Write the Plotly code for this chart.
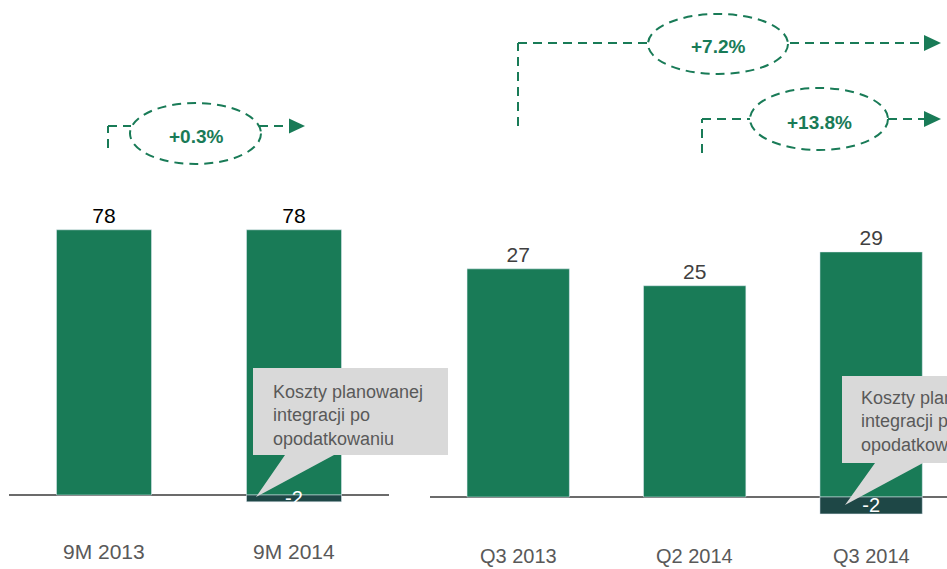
import plotly.graph_objects as go

# dane - lewy panel (9M)
kat_9m = ["9M 2013", "9M 2014"]
wart_9m = [78, 78]
neg_9m = [None, -2]

# dane - prawy panel (kwartały)
kat_q = ["Q3 2013", "Q2 2014", "Q3 2014"]
wart_q = [27, 25, 29]
neg_q = [None, None, -2]

# zmiany procentowe
zmiany = ["+0.3%", "+7.2%", "+13.8%"]
opis = "Koszty planowanej<br>integracji po<br>opodatkowaniu"

W, H = 947, 569
ZIELONY = "#197b57"
CIEMNY = "#1e4746"
SZARY = "#595959"
FONT = "Liberation Sans, Arial, sans-serif"


def px(x):
    return x / W


def py(y):
    return 1 - y / H


fig = go.Figure()

fig.add_trace(go.Bar(x=kat_9m, y=wart_9m, marker_color=ZIELONY, width=0.5,
                     text=wart_9m, textposition="outside", cliponaxis=False,
                     textfont=dict(color="#000000", size=21, family=FONT),
                     xaxis="x", yaxis="y"))
fig.add_trace(go.Bar(x=kat_9m, y=neg_9m, marker_color=CIEMNY, width=0.5,
                     text=neg_9m, textposition="inside", constraintext="none", textangle=0,
                     insidetextanchor="middle", cliponaxis=False,
                     textfont=dict(color="white", size=20, family=FONT),
                     xaxis="x", yaxis="y"))
fig.add_trace(go.Bar(x=kat_q, y=wart_q, marker_color=ZIELONY, width=0.58,
                     text=wart_q, textposition="outside", cliponaxis=False,
                     textfont=dict(color="#404040", size=21, family=FONT),
                     xaxis="x2", yaxis="y2"))
fig.add_trace(go.Bar(x=kat_q, y=neg_q, marker_color=CIEMNY, width=0.58,
                     text=neg_q, textposition="inside", constraintext="none", textangle=0,
                     insidetextanchor="middle", cliponaxis=False,
                     textfont=dict(color="white", size=20, family=FONT),
                     xaxis="x2", yaxis="y2"))

# etykiety kategorii
ann = []
for k in kat_9m:
    ann.append(dict(x=k, y=py(551), xref="x", yref="paper", text=k, showarrow=False,
                    yanchor="middle", font=dict(size=21, color=SZARY, family=FONT)))
for k in kat_q:
    ann.append(dict(x=k, y=py(556), xref="x2", yref="paper", text=k, showarrow=False,
                    yanchor="middle", font=dict(size=20, color=SZARY, family=FONT)))

shapes = []
kreska = dict(color=ZIELONY, width=2, dash="9px,6px")


def linia(x0, y0, x1, y1):
    shapes.append(dict(type="line", xref="paper", yref="paper",
                       x0=px(x0), y0=py(y0), x1=px(x1), y1=py(y1), line=kreska))


def elipsa(x0, y0, x1, y1):
    shapes.append(dict(type="circle", xref="paper", yref="paper",
                       x0=px(x0), y0=py(y0), x1=px(x1), y1=py(y1), line=kreska))


def grot(x0, x1, yc, h):
    path = "M {} {} L {} {} L {} {} Z".format(px(x0), py(yc - h), px(x1), py(yc), px(x0), py(yc + h))
    shapes.append(dict(type="path", xref="paper", yref="paper", path=path,
                       fillcolor=ZIELONY, line=dict(width=0)))


# +0.3%
linia(108, 148, 108, 126)
linia(108, 126, 131, 126)
elipsa(130, 103, 261, 164)
linia(259, 126, 290, 126)
grot(289, 305, 126, 7.5)
# +7.2%
linia(518, 126, 518, 43)
linia(518, 43, 648, 43)
elipsa(648, 14, 788, 74)
linia(790, 43, 925, 43)
grot(924, 941, 43, 8)
# +13.8%
linia(702, 153, 702, 119)
linia(702, 119, 750, 119)
elipsa(750, 88, 888, 150)
linia(888, 119, 925, 119)
grot(924, 941, 119, 8)

for t, x, y in zip(zmiany, [196, 718, 819], [136, 47, 122]):
    ann.append(dict(x=px(x), y=py(y), xref="paper", yref="paper", text="<b>" + t + "</b>",
                    xanchor="center", yanchor="middle", showarrow=False,
                    font=dict(size=19, color=ZIELONY, family=FONT)))


# dymki z opisem
def dymek(bx0, by0, bx1, by1, t0, tip_x, tip_y, t1):
    path = ("M {} {} L {} {} L {} {} L {} {} L {} {} L {} {} L {} {} Z").format(
        px(bx0), py(by0), px(bx1), py(by0), px(bx1), py(by1), px(t1), py(by1),
        px(tip_x), py(tip_y), px(t0), py(by1), px(bx0), py(by1))
    shapes.append(dict(type="path", xref="paper", yref="paper", path=path,
                       fillcolor="#d9d9d9", line=dict(width=0), layer="above"))


dymek(253, 368, 448, 455, 285, 256, 497, 334)
dymek(842, 376, 1000, 463, 875, 845, 505, 923)
ann.append(dict(x=px(271), y=py(415), xref="paper", yref="paper", text=opis, showarrow=False,
                xanchor="left", yanchor="middle", align="left",
                font=dict(size=18, color=SZARY, family=FONT)))
ann.append(dict(x=px(859), y=py(421), xref="paper", yref="paper", text=opis, showarrow=False,
                xanchor="left", yanchor="middle", align="left",
                font=dict(size=18, color=SZARY, family=FONT)))

fig.update_layout(
    width=W, height=H,
    margin=dict(l=0, r=0, t=0, b=0),
    paper_bgcolor="white", plot_bgcolor="white",
    barmode="overlay", showlegend=False,
    xaxis=dict(domain=[px(9), px(389)], range=[-0.5, 1.5], showticklabels=False,
               showgrid=False, zeroline=False, fixedrange=True),
    yaxis=dict(domain=[0, 1], range=[-(H - 495) / 3.4, 495 / 3.4], showticklabels=False,
               showgrid=False, zeroline=True, zerolinecolor="#6b6b6b", zerolinewidth=2),
    xaxis2=dict(domain=[px(430), 1], range=[-0.5, 2.43], showticklabels=False,
                showgrid=False, zeroline=False, anchor="y2"),
    yaxis2=dict(domain=[0, 1], range=[-(H - 497) / 8.45, 497 / 8.45], anchor="x2",
                showticklabels=False, showgrid=False, zeroline=True,
                zerolinecolor="#6b6b6b", zerolinewidth=2),
    shapes=shapes,
    annotations=ann,
)

# bez marginesu strony, żeby wykres zaczynał się w lewym górnym rogu
fig.write_html("out.html", config={"displayModeBar": False},
               post_script="document.body.style.margin='0';")
